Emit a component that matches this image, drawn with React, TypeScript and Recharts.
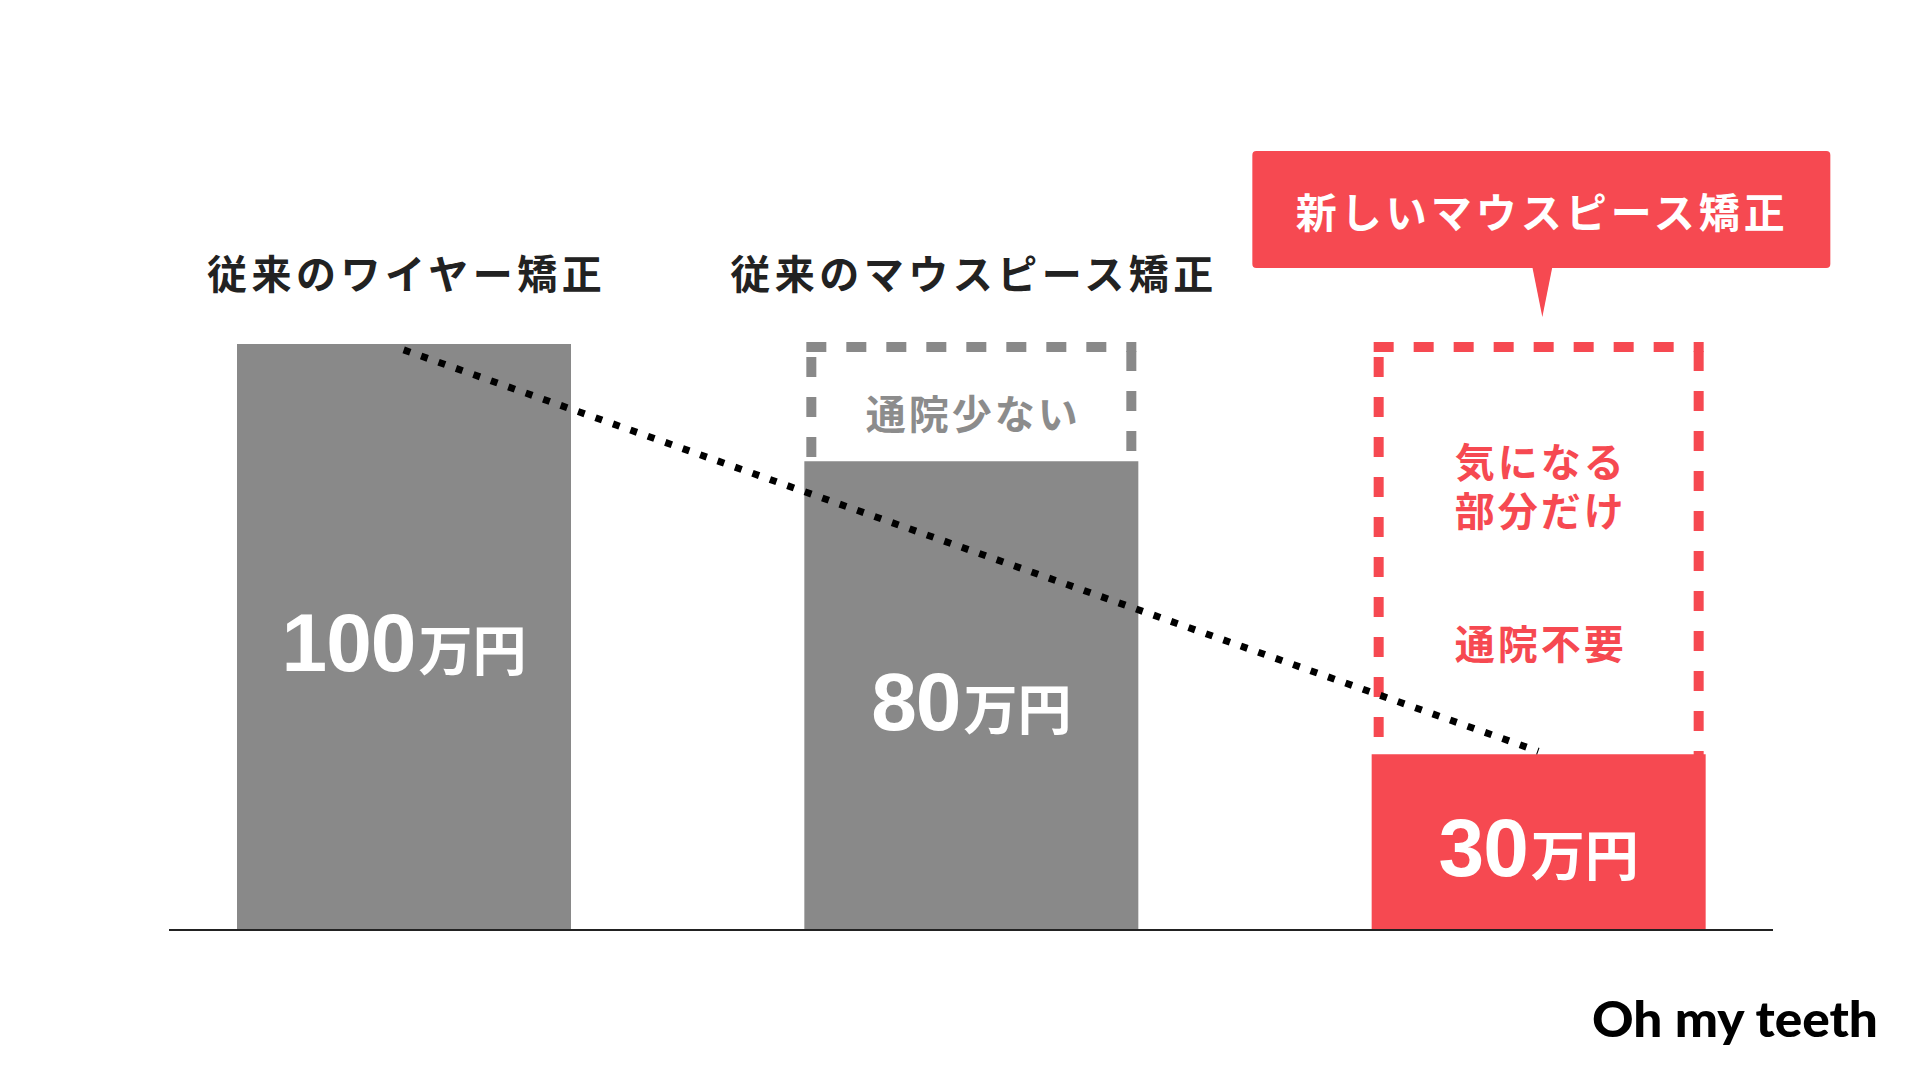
import { Bar, Cell, ComposedChart, LabelList, Line, ReferenceLine, XAxis, YAxis } from "recharts";

// prices in 万円
const categories = ["従来のワイヤー矯正", "従来のマウスピース矯正", "新しいマウスピース矯正"];
const prices = [100, 80, 30];
const ceiling = [0, 100, 100];
const trend = [99, null, 30.5];
const upperNotes = ["", "通院少ない", "気になる\n部分だけ"];
const lowerNotes = ["", "", "通院不要"];

const GRAY = "#898989";
const RED = "#F64951";
const barColors = [GRAY, GRAY, RED];
const noteColors = ["#8c8c8c", "#8c8c8c", RED];
const upperOffset = [0, 68, 116];
const lowerOffset = [0, 0, 298];

const CJK = "'Noto Sans CJK JP', 'Noto Sans', sans-serif";

const data = categories.map((name, i) => ({
  name,
  price: prices[i],
  ceiling: ceiling[i],
  trend: trend[i],
}));

const DashedOutline = (props: any) => {
  const { x, y, width, height } = props;
  const byName = categories.indexOf(props.payload?.name);
  const i = byName >= 0 ? byName : props.index;
  if (!height || i == null || i < 0) return null;
  const l = x + 7;
  const r = x + width - 7;
  const t = y + 3;
  const b = y + height;
  return (
    <g stroke={barColors[i]} strokeWidth={10} strokeDasharray="20 20" fill="none">
      <line x1={l - 5} y1={t} x2={r + 5} y2={t} />
      <line x1={l} y1={t + 10} x2={l} y2={b} />
      <line x1={r} y1={t + 4} x2={r} y2={b} />
    </g>
  );
};

const NoteLabel = (props: any) => {
  const { x, y, width, index } = props;
  if (index == null || !upperNotes[index]) return null;
  const cx = Number(x) + Number(width) / 2;
  const top = Number(y);
  const lines = upperNotes[index].split("\n");
  return (
    <g fill={noteColors[index]} fontFamily={CJK} fontWeight={700} fontSize={40} textAnchor="middle">
      {lines.map((t, k) => (
        <text key={k} x={cx + 2} y={top + upperOffset[index] + k * 49} dominantBaseline="central" letterSpacing={3}>
          {t}
        </text>
      ))}
      {lowerNotes[index] ? (
        <text x={cx + 2} y={top + lowerOffset[index]} dominantBaseline="central" letterSpacing={3}>
          {lowerNotes[index]}
        </text>
      ) : null}
    </g>
  );
};

const PriceLabel = (props: any) => {
  const { x, y, width, height, value } = props;
  const cx = Number(x) + Number(width) / 2;
  const base = Number(y) + Number(height) / 2 + 34;
  return (
    <text x={cx} y={base} textAnchor="middle" fill="#fff" fontWeight={700}>
      <tspan fontFamily="'Liberation Sans', Arial, sans-serif" fontSize={82} letterSpacing={-1}>
        {value}
      </tspan>
      <tspan fontFamily={CJK} fontSize={54} dx={3}>
        万円
      </tspan>
    </text>
  );
};

const CategoryTick = (props: any) => {
  const { x, y, payload } = props;
  const i = categories.indexOf(payload?.value);
  if (i === 2) {
    return (
      <g>
        <rect x={x - 286} y={y - 193} width={578} height={117} rx={4} fill={RED} />
        <path d={`M${x - 6},${y - 77} L${x + 14},${y - 77} L${x + 4},${y - 27} Z`} fill={RED} />
        <text
          x={x + 4}
          y={y - 134}
          textAnchor="middle"
          dominantBaseline="central"
          fill="#fff"
          fontFamily={CJK}
          fontWeight={700}
          fontSize={41}
          letterSpacing={4}
        >
          {payload.value}
        </text>
      </g>
    );
  }
  return (
    <text
      x={x + 3}
      y={y - 72}
      textAnchor="middle"
      dominantBaseline="central"
      fill="#222"
      fontFamily={CJK}
      fontWeight={700}
      fontSize={40}
      letterSpacing={4.5}
    >
      {payload.value}
    </text>
  );
};

export default function App() {
  return (
    <div style={{ position: "fixed", left: 0, top: 0, width: 1920, height: 1080, background: "#fff" }}>
      <ComposedChart width={1920} height={1080} data={data} margin={{ top: 144, bottom: 150, left: 120, right: 98 }}>
        <XAxis
          dataKey="name"
          orientation="top"
          height={200}
          axisLine={false}
          tickLine={false}
          tickSize={0}
          tickMargin={0}
          interval={0}
          tick={<CategoryTick />}
        />
        <XAxis xAxisId="ghost" dataKey="name" hide />
        <YAxis hide domain={[0, 100]} />
        <Bar xAxisId="ghost" dataKey="ceiling" barSize={334} shape={<DashedOutline />} isAnimationActive={false}>
          <LabelList dataKey="ceiling" content={<NoteLabel />} />
        </Bar>
        <Bar dataKey="price" barSize={334} isAnimationActive={false}>
          {data.map((d, i) => (
            <Cell key={d.name} fill={barColors[i]} />
          ))}
          <LabelList dataKey="price" content={<PriceLabel />} />
        </Bar>
        <Line
          dataKey="trend"
          connectNulls
          stroke="#000"
          strokeWidth={7}
          strokeDasharray="7 11.5"
          dot={false}
          activeDot={false}
          isAnimationActive={false}
        />
        <ReferenceLine
          y={0}
          shape={(p: any) => (
            <line x1={p.x1 + 49} y1={p.y1} x2={p.x2 - 49} y2={p.y2} stroke="#222" strokeWidth={2} />
          )}
        />
      </ComposedChart>
      <svg style={{ position: "absolute", left: 1585, top: 990 }} width={320} height={70}>
        <text x={7} y={47} fontFamily="Lato, 'Noto Sans', sans-serif" fontWeight={900} fontSize={50} textLength={286} lengthAdjust="spacingAndGlyphs" fill="#000">
          Oh my teeth
        </text>
      </svg>
    </div>
  );
}
